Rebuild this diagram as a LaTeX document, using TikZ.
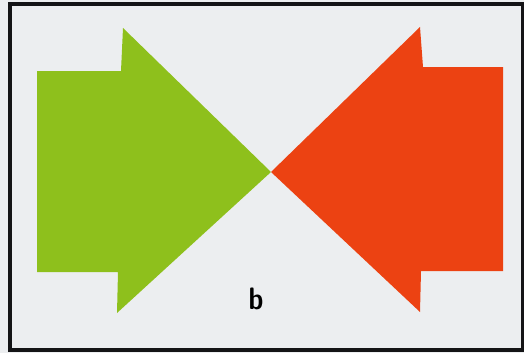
\documentclass[tikz,border=0pt]{standalone}
\usepackage{tikz}
\usetikzlibrary{positioning}

\definecolor{paper}{RGB}{236,238,240}
\definecolor{leafgreen}{RGB}{142,192,28}
\definecolor{signalred}{RGB}{236,66,18}
\definecolor{frameink}{RGB}{20,20,22}

\begin{document}
\begin{tikzpicture}[x=1pt,y=-1pt,
   frame/.style={draw=frameink,line width=3.2pt},
   arrowfill/.style={line join=miter},
   caption/.style={font=\sffamily\bfseries\fontsize{31}{31}\selectfont,inner sep=0pt,xscale=0.85}]
 \useasboundingbox (0,0) rectangle (524,353);
 \fill[paper] (0,0) rectangle (524,353);
 \draw[frame] (10,4) rectangle (523,350);
 % tips of both arrows meet in the middle
 \coordinate (tip) at (271,172);
 \fill[leafgreen,arrowfill] (37,71) -- (121,71) -- (123,28) -- (tip)
    -- (117,313) -- (118,272) -- (37,272) -- cycle;
 \fill[signalred,arrowfill] (503,67) -- (423,67) -- (420,27) -- (tip)
    -- (420,312) -- (421,271) -- (503,271) -- cycle;
 \node[caption] (lbl) at (256,299) {b};
\end{tikzpicture}
\end{document}
